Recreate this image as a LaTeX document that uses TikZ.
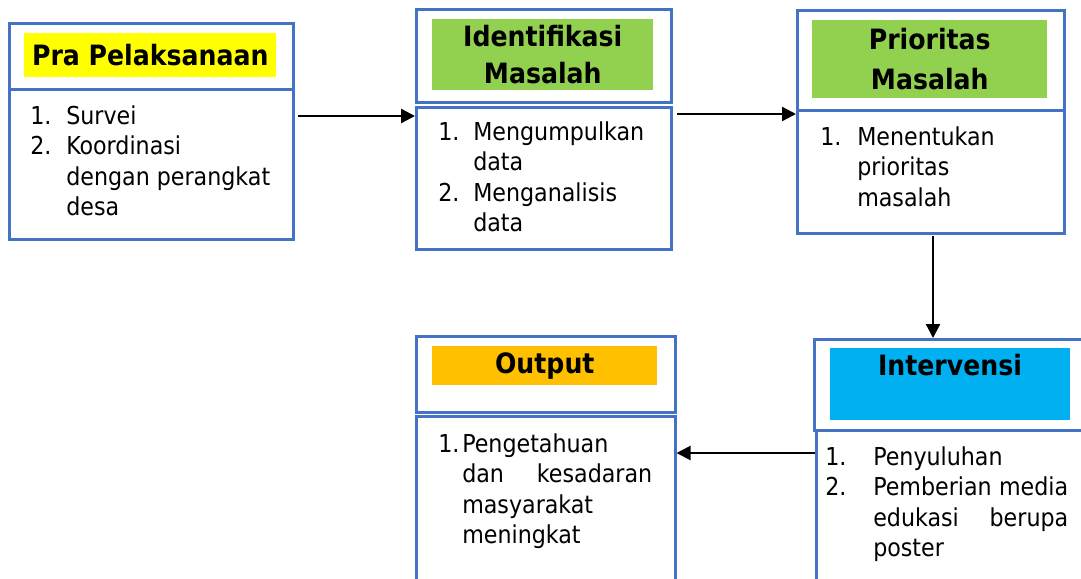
\documentclass[tikz,border=0pt]{standalone}
\usepackage{fontspec}
\setmainfont{DejaVu Sans Condensed}
\usetikzlibrary{arrows.meta}
\definecolor{boxblue}{HTML}{4472C4}
\definecolor{headgreen}{HTML}{92D050}
\definecolor{headyellow}{HTML}{FFFF00}
\definecolor{headorange}{HTML}{FFC000}
\definecolor{headcyan}{HTML}{00B0F0}

\tikzset{
  box/.style={draw=boxblue, line width=1.9pt, anchor=north west, inner sep=0pt},
  headfill/.style={anchor=north west, inner sep=0pt, align=center},
  headfont/.style={font=\fontsize{21}{#1}\selectfont\bfseries},
  itemtext/.style={anchor=base west, inner sep=0pt, font=\fontsize{18.5}{22.9}\selectfont},
  arr/.style={-{Triangle[length=10.5pt,width=10.5pt]}, line width=1.7pt}
}

\begin{document}
\begin{tikzpicture}[x=0.75pt, y=-0.75pt]
\useasboundingbox (0,0) rectangle (1081,578);
\clip (0,0) rectangle (1081,578);

% Pra Pelaksanaan
\node[box, minimum width=213pt, minimum height=49.5pt] (praH) at (8,22) {};
\node[box, minimum width=213pt, minimum height=112.5pt] (praB) at (8,88) {};
\node[headfill, headfont=24, fill=headyellow, minimum width=189pt, minimum height=33pt] (praF) at (24,33) {Pra Pelaksanaan};
\node[itemtext] (praT) at (30,124) {\begin{tabular}[t]{@{}l@{}l@{}}
  \makebox[27pt][l]{1.} & Survei\\
  2. & Koordinasi\\
     & dengan perangkat\\
     & desa
\end{tabular}};

% Identifikasi Masalah
\node[box, minimum width=191.25pt, minimum height=69.75pt] (idH) at (415,8) {};
\node[box, minimum width=191.25pt, minimum height=106.5pt] (idB) at (415,106) {};
\node[headfill, headfont=27.75, fill=headgreen, minimum width=165.75pt, minimum height=53.25pt] (idF) at (432,19) {Identifikasi\\Masalah};
\node[itemtext] (idT) at (438,140) {\begin{tabular}[t]{@{}l@{}l@{}}
  \makebox[26.25pt][l]{1.} & Mengumpulkan\\
     & data\\
  2. & Menganalisis\\
     & data
\end{tabular}};

% Prioritas Masalah
\node[box, minimum width=200.25pt, minimum height=75pt] (prH) at (796,9) {};
\node[box, minimum width=200.25pt, minimum height=92.25pt] (prB) at (796,109) {};
\node[headfill, headfont=30, fill=headgreen, minimum width=176.25pt, minimum height=58.5pt] (prF) at (812,20) {Prioritas\\Masalah};
\node[itemtext] (prT) at (820,145) {\begin{tabular}[t]{@{}l@{}l@{}}
  \makebox[27.75pt][l]{1.} & Menentukan\\
     & prioritas\\
     & masalah
\end{tabular}};

% Output
\node[box, minimum width=194.25pt, minimum height=57pt] (outH) at (415,335) {};
\node[box, minimum width=194.25pt, minimum height=140pt] (outB) at (415,415) {};
\node[headfill, headfont=24, fill=headorange, minimum width=168.75pt, minimum height=29.25pt] (outF) at (432,346) {Output};
\node[itemtext] (outT) at (438,452) {\begin{tabular}[t]{@{}l@{}l@{}}
  \makebox[18pt][l]{1.} & Pengetahuan\\
     & \makebox[142.5pt][s]{dan\hfill kesadaran}\\
     & masyarakat\\
     & meningkat
\end{tabular}};

% Intervensi
\node[box, minimum width=216pt, minimum height=68.25pt] (intH) at (813,338) {};
\node[box, minimum width=216pt, minimum height=140pt] (intB) at (815,429) {};
\node[headfill, fill=headcyan, minimum width=180pt, minimum height=54pt] (intF) at (830,348) {};
\node[headfont=24, inner sep=0pt, anchor=base] (intT) at (950,375) {Intervensi};
\node[itemtext] (intL) at (825,465) {\begin{tabular}[t]{@{}l@{}l@{}}
  \makebox[36pt][l]{1.} & Penyuluhan\\
  2. & \makebox[146.25pt][s]{Pemberian\hfill media}\\
     & \makebox[146.25pt][s]{edukasi\hfill berupa}\\
     & poster
\end{tabular}};

% alur
\coordinate (a1) at (298,116);
\coordinate (a2) at (677,114);
\coordinate (a3) at (933,236);
\coordinate (a4) at (0,453);
\draw[arr] (a1) -- (a1 -| idB.west);
\draw[arr] (a2) -- (a2 -| prB.west);
\draw[arr] (a3) -- (a3 |- intH.north);
\draw[arr] (a4 -| intB.west) -- (a4 -| outB.east);
\end{tikzpicture}
\end{document}
